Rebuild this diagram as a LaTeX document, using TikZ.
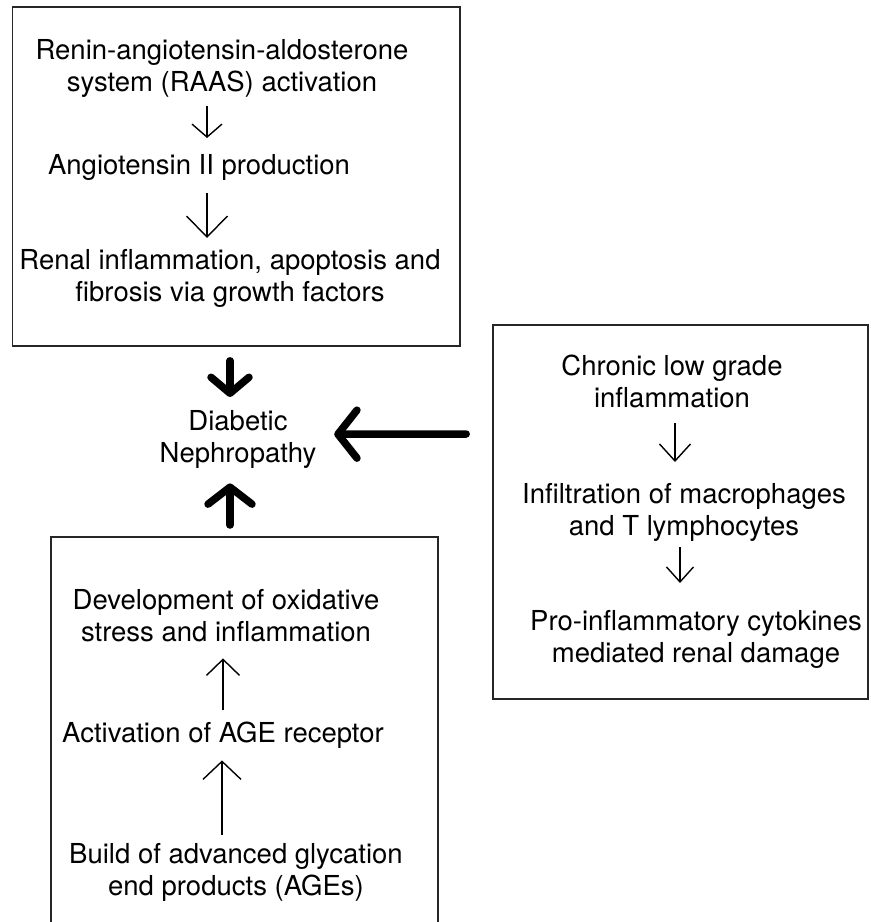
\documentclass[tikz,border=0pt]{standalone}
\usepackage{fontspec}
\setmainfont{TeX Gyre Heros}
\usetikzlibrary{arrows.meta}
\begin{document}
\begin{tikzpicture}[x=1pt,y=-1pt,
  every node/.style={font=\fontsize{27.5}{32}\selectfont, inner sep=0pt, align=center, anchor=north, text=black},
  boxframe/.style={draw=black!85, line width=1.6pt},
  thinarr/.style={draw=black, line width=1.4pt},
  bigarr/.style={draw=black, line width=7.5pt, line cap=round}
]
\useasboundingbox[fill=white] (0,0) rectangle (871,922);

% frames
\node[boxframe, anchor=center, minimum width=447.5pt, minimum height=339pt] (box1) at (236.25,176.5) {};
\node[boxframe, anchor=center, minimum width=375pt, minimum height=374pt] (box2) at (680.5,512) {};
\draw[boxframe] (51,930) |- (438,537) -- (438,930);
\coordinate (box3top) at (230,537);

% texts
\node (r1) at (222,36.6) {\strut Renin-angiotensin-aldosterone\\system (RAAS) activation\strut};
\node (ag) at (199,151.6) {\strut Angiotensin II production\strut};
\node (rf) at (230,246.6) {\strut Renal inflammation, apoptosis and\\fibrosis via growth factors\strut};
\node (dn) at (238,407.6) {\strut Diabetic\\Nephropathy\strut};
\node (ch) at (672,352.6) {\strut Chronic low grade\\inflammation\strut};
\node (inf) at (684,480.6) {\strut Infiltration of macrophages\\and T lymphocytes\strut};
\node (pro) at (696,607.6) {\strut Pro-inflammatory cytokines\\mediated renal damage\strut};
\node (dev) at (226,586.6) {\strut Development of oxidative\\stress and inflammation\strut};
\node (act) at (223,719.6) {\strut Activation of AGE receptor\strut};
\node (bld) at (236,840.6) {\strut Build of advanced glycation\\end products (AGEs)\strut};

% thin arrows
\draw[thinarr, -{Straight Barb[length=13pt,width=30pt]}, shorten <=5.4pt, shorten >=13.6pt]
  ([xshift=-15pt]r1.south) -- ([xshift=8pt]ag.north);
\draw[thinarr, -{Straight Barb[length=21pt,width=41pt]}, shorten <=9.4pt, shorten >=8.6pt]
  ([xshift=8pt]ag.south) -- ([xshift=-23pt]rf.north);
\draw[thinarr, -{Straight Barb[length=17pt,width=31pt]}, shorten <=6.4pt, shorten >=18.6pt]
  ([xshift=3pt]ch.south) -- ([xshift=-9pt]inf.north);
\draw[thinarr, -{Straight Barb[length=15pt,width=27pt]}, shorten <=2.4pt, shorten >=24.6pt]
  ([xshift=-4pt]inf.south) -- ([xshift=-16pt]pro.north);
\draw[thinarr, -{Straight Barb[length=16pt,width=33pt]}, shorten <=9.6pt, shorten >=7.4pt]
  (act.north) -- ([xshift=-3pt]dev.south);
\draw[thinarr, -{Straight Barb[length=18pt,width=38pt]}, shorten <=5.6pt, shorten >=8.4pt]
  ([xshift=-14pt]bld.north) -- ([xshift=-1pt]act.south);

% thick arrows
\draw[bigarr, -{Straight Barb[length=16pt,width=38pt,round]}, shorten <=14pt, shorten >=10.6pt]
  ([xshift=-6.25pt]box1.south) -- ([xshift=-8pt]dn.north);
\draw[bigarr, -{Straight Barb[length=17pt,width=44pt,round]}, shorten <=12pt, shorten >=11.4pt]
  (box3top) -- ([xshift=-8pt]dn.south);
\draw[bigarr, -{Straight Barb[length=19pt,width=48pt,round]}, shorten <=26pt, shorten >=17.7pt]
  ([yshift=78pt]box2.west) -- ([yshift=5.6pt]dn.east);
\end{tikzpicture}
\end{document}
